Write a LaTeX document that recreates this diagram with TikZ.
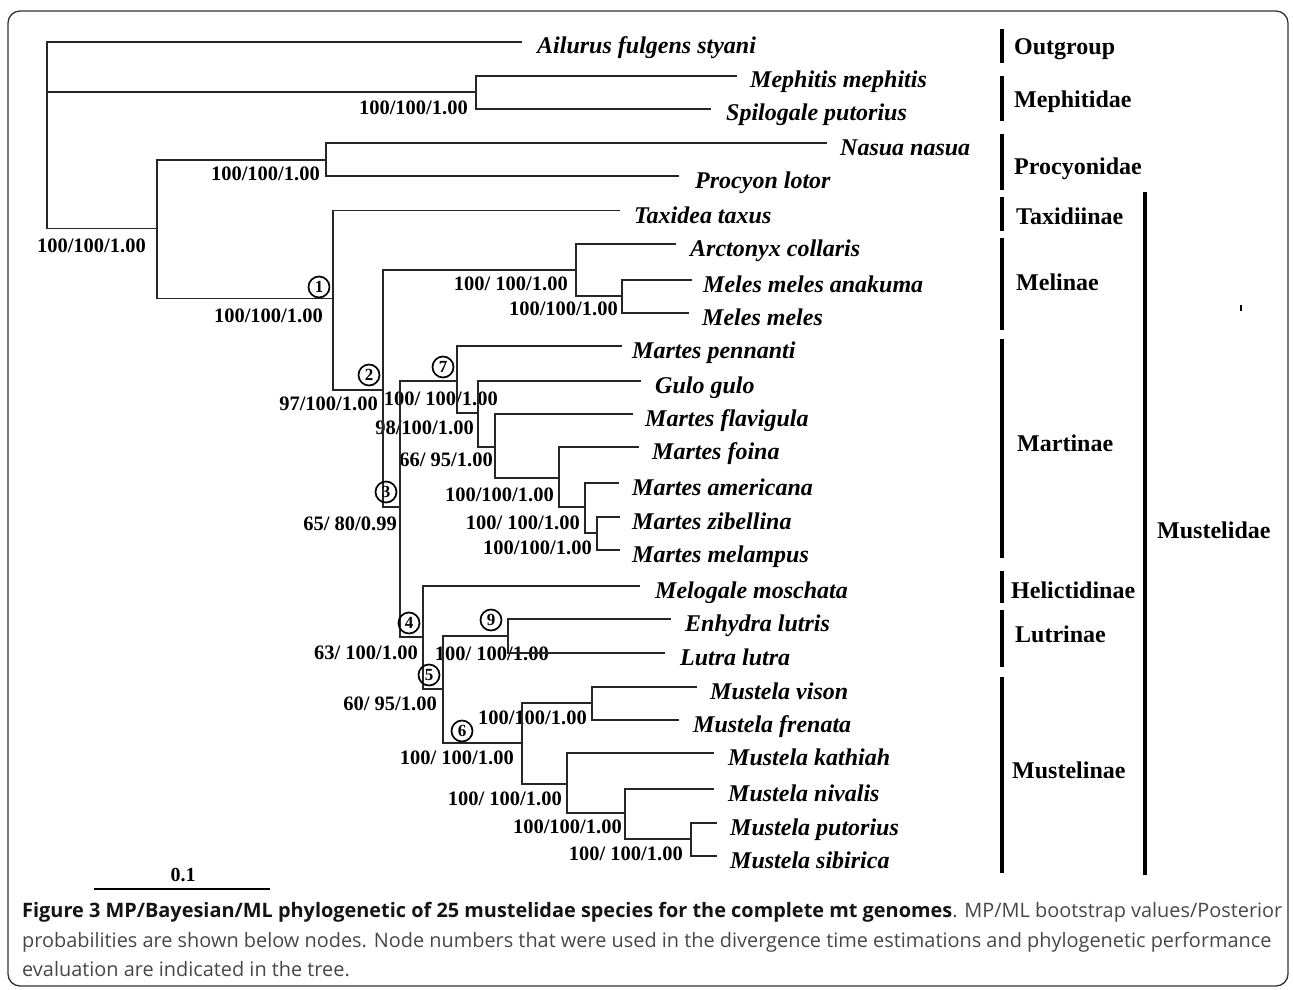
\documentclass[tikz,border=0pt]{standalone}
\usepackage{fontspec}
\setmainfont{Liberation Serif}
\newfontfamily\capfont{Open Sans}
\begin{document}
\begin{tikzpicture}[x=1pt,y=-1pt,
  br/.style={line width=1.5pt, draw=black!85},
  sp/.style={font=\fontsize{24}{26}\selectfont\bfseries\itshape, anchor=base west, inner sep=0pt},
  bs/.style={font=\fontsize{20.5}{22}\selectfont\bfseries, anchor=base east, inner sep=0pt},
  grp/.style={font=\fontsize{24}{26}\selectfont\bfseries, anchor=base west, inner sep=0pt},
  bar/.style={line width=3.5pt},
  cnum/.style={circle, draw, line width=1.7pt, minimum size=21pt, inner sep=0pt, font=\fontsize{17}{17}\selectfont\bfseries},
  captxt/.style={font=\fontsize{19.9}{22}\capfont, anchor=base west, inner sep=0pt, text=black!72}
]
\useasboundingbox (0,0) rectangle (1293,990);
\draw[line width=1.3pt, draw=black!80, rounded corners=12pt] (8,11) rectangle (1288,986);

% tree coordinates
\coordinate (root) at (47,228.7);
\coordinate (l1) at (522,42);
\coordinate (nMeph) at (476,92);
\coordinate (l2) at (737,76);
\coordinate (l3) at (711,109);
\coordinate (nB) at (157,228.7);
\coordinate (nProc) at (326,160);
\coordinate (l4) at (827,143);
\coordinate (l5) at (679,176);
\coordinate (n1) at (333,298.7);
\coordinate (l6) at (620,210.7);
\coordinate (n2) at (383,390);
\coordinate (nMel) at (576,270);
\coordinate (l7) at (676,244);
\coordinate (nMeles) at (622,296);
\coordinate (l8) at (692,280);
\coordinate (l9) at (689,313);
\coordinate (n3) at (400,507);
\coordinate (n7) at (457,381);
\coordinate (l10) at (622,346);
\coordinate (nGulo) at (478,413);
\coordinate (l11) at (641,381);
\coordinate (nFlav) at (495,447);
\coordinate (l12) at (633,414);
\coordinate (nFoina) at (559,478);
\coordinate (l13) at (639,447);
\coordinate (nAmer) at (585,507);
\coordinate (l14) at (619,483);
\coordinate (nZib) at (597,533);
\coordinate (l15) at (620,517);
\coordinate (l16) at (620,550);
\coordinate (n4) at (423,637);
\coordinate (l17) at (640,586);
\coordinate (n5) at (443,689);
\coordinate (n9) at (508,636);
\coordinate (l18) at (671,619);
\coordinate (l19) at (665,653);
\coordinate (n6) at (522,743);
\coordinate (nVis) at (592,703);
\coordinate (l20) at (697,687);
\coordinate (l21) at (679,720);
\coordinate (nKath) at (567,784);
\coordinate (l22) at (714,753);
\coordinate (nNiv) at (625,813);
\coordinate (l23) at (714,789);
\coordinate (nPut) at (691,839);
\coordinate (l24) at (717,823);
\coordinate (l25) at (717,856);

% bootstrap labels
\node[bs] (bRoot) at (146,252) {100/100/1.00};
\node[bs] (bMeph) at (468,114) {100/100/1.00};
\node[bs] (bProc) at (320,180) {100/100/1.00};
\node[bs] (bN1) at (323,322) {100/100/1.00};
\node[bs] (bMel) at (568,290) {100/ 100/1.00};
\node[bs] (bMeles) at (618,315) {100/100/1.00};
\node[bs] (bN2) at (378,410) {97/100/1.00};
\node[bs] (bN7) at (498,405) {100/ 100/1.00};
\node[bs] (bGulo) at (474,434) {98/100/1.00};
\node[bs] (bFlav) at (493,466) {66/ 95/1.00};
\node[bs] (bFoina) at (554,501) {100/100/1.00};
\node[bs] (bAmer) at (580,529) {100/ 100/1.00};
\node[bs] (bZib) at (592,554) {100/100/1.00};
\node[bs] (bN3) at (397,530) {65/ 80/0.99};
\node[bs] (bN4) at (418,659) {63/ 100/1.00};
\node[bs] (bN9) at (549,660) {100/ 100/1.00};
\node[bs] (bN5) at (437,710) {60/ 95/1.00};
\node[bs] (bN6) at (514,764) {100/ 100/1.00};
\node[bs] (bVis) at (587,724) {100/100/1.00};
\node[bs] (bKath) at (562,805) {100/ 100/1.00};
\node[bs] (bNiv) at (622,833) {100/100/1.00};
\node[bs] (bPut) at (683,860) {100/ 100/1.00};

% branches
\draw[br] (root) |- (l1);
\draw[br] (root) |- (nMeph);
\draw[br] (root) -- (nB);
\draw[br] (nMeph) |- (l2);
\draw[br] (nMeph) |- (l3);
\draw[br] (nB) |- (nProc);
\draw[br] (nB) |- (n1);
\draw[br] (nProc) |- (l4);
\draw[br] (nProc) |- (l5);
\draw[br] (n1) |- (l6);
\draw[br] (n1) |- (n2);
\draw[br] (n2) |- (nMel);
\draw[br] (n2) |- (n3);
\draw[br] (nMel) |- (l7);
\draw[br] (nMel) |- (nMeles);
\draw[br] (nMeles) |- (l8);
\draw[br] (nMeles) |- (l9);
\draw[br] (n3) |- (n7);
\draw[br] (n3) |- (n4);
\draw[br] (n7) |- (l10);
\draw[br] (n7) |- (nGulo);
\draw[br] (nGulo) |- (l11);
\draw[br] (nGulo) |- (nFlav);
\draw[br] (nFlav) |- (l12);
\draw[br] (nFlav) |- (nFoina);
\draw[br] (nFoina) |- (l13);
\draw[br] (nFoina) |- (nAmer);
\draw[br] (nAmer) |- (l14);
\draw[br] (nAmer) |- (nZib);
\draw[br] (nZib) |- (l15);
\draw[br] (nZib) |- (l16);
\draw[br] (n4) |- (l17);
\draw[br] (n4) |- (n5);
\draw[br] (n5) |- (n9);
\draw[br] (n5) |- (n6);
\draw[br] (n9) |- (l18);
\draw[br] (n9) |- (l19);
\draw[br] (n6) |- (nVis);
\draw[br] (n6) |- (nKath);
\draw[br] (nVis) |- (l20);
\draw[br] (nVis) |- (l21);
\draw[br] (nKath) |- (l22);
\draw[br] (nKath) |- (nNiv);
\draw[br] (nNiv) |- (l23);
\draw[br] (nNiv) |- (nPut);
\draw[br] (nPut) |- (l24);
\draw[br] (nPut) |- (l25);

% species
\node[sp] (tAil) at (537,54) {Ailurus fulgens styani};
\node[sp] (tMep) at (750,88) {Mephitis mephitis};
\node[sp] (tSpi) at (726,121) {Spilogale putorius};
\node[sp] (tNas) at (840,155) {Nasua nasua};
\node[sp] (tPro) at (695,188) {Procyon lotor};
\node[sp] (tTax) at (634,223) {Taxidea taxus};
\node[sp] (tArc) at (690,256) {Arctonyx collaris};
\node[sp] (tMma) at (703,292) {Meles meles anakuma};
\node[sp] (tMme) at (702,325) {Meles meles};
\node[sp] (tMpe) at (632,358) {Martes pennanti};
\node[sp] (tGul) at (655,393) {Gulo gulo};
\node[sp] (tMfl) at (645,426) {Martes flavigula};
\node[sp] (tMfo) at (652,459) {Martes foina};
\node[sp] (tMam) at (632,495) {Martes americana};
\node[sp] (tMzi) at (632,529) {Martes zibellina};
\node[sp] (tMml) at (632,562) {Martes melampus};
\node[sp] (tMel) at (655,598) {Melogale moschata};
\node[sp] (tEnh) at (685,631) {Enhydra lutris};
\node[sp] (tLut) at (680,665) {Lutra lutra};
\node[sp] (tVis) at (710,699) {Mustela vison};
\node[sp] (tFre) at (693,732) {Mustela frenata};
\node[sp] (tKat) at (728,765) {Mustela kathiah};
\node[sp] (tNiv) at (728,801) {Mustela nivalis};
\node[sp] (tPut) at (730,835) {Mustela putorius};
\node[sp] (tSib) at (730,868) {Mustela sibirica};

% node numbers
\node[cnum] (c1) at (319,287) {1};
\node[cnum] (c2) at (369,375) {2};
\node[cnum] (c7) at (443,367) {7};
\node[cnum] (c3) at (386,492) {3};
\node[cnum] (c4) at (409,623) {4};
\node[cnum] (c9) at (491,620) {9};
\node[cnum] (c5) at (429,675) {5};
\node[cnum] (c6) at (462,731) {6};

% group bars
\coordinate (gOa) at (1002,29);  \coordinate (gOb) at (1002,63);
\coordinate (gMa) at (1002,76);  \coordinate (gMb) at (1002,121);
\coordinate (gPa) at (1002,134); \coordinate (gPb) at (1002,190);
\coordinate (gTa) at (1002,197); \coordinate (gTb) at (1002,231);
\coordinate (gLa) at (1002,238); \coordinate (gLb) at (1002,330);
\coordinate (gRa) at (1002,339); \coordinate (gRb) at (1002,558);
\coordinate (gHa) at (1002,571); \coordinate (gHb) at (1002,603);
\coordinate (gUa) at (1002,610); \coordinate (gUb) at (1002,667);
\coordinate (gSa) at (1002,677); \coordinate (gSb) at (1002,873);
\coordinate (gDa) at (1145,192); \coordinate (gDb) at (1145,875);
\draw[bar] (gOa) -- (gOb);
\draw[bar] (gMa) -- (gMb);
\draw[bar] (gPa) -- (gPb);
\draw[bar] (gTa) -- (gTb);
\draw[bar] (gLa) -- (gLb);
\draw[bar] (gRa) -- (gRb);
\draw[bar] (gHa) -- (gHb);
\draw[bar] (gUa) -- (gUb);
\draw[bar] (gSa) -- (gSb);
\draw[bar] (gDa) -- (gDb);
\node[grp] (kOut) at (1014,55) {Outgroup};
\node[grp] (kMep) at (1014,107) {Mephitidae};
\node[grp] (kPro) at (1014,174) {Procyonidae};
\node[grp] (kTax) at (1016,224) {Taxidiinae};
\node[grp] (kMel) at (1016,290) {Melinae};
\node[grp] (kMar) at (1017,451) {Martinae};
\node[grp] (kHel) at (1011,598) {Helictidinae};
\node[grp] (kLut) at (1015,642) {Lutrinae};
\node[grp] (kMus) at (1012,778) {Mustelinae};
\node[grp] (kFam) at (1157,538) {Mustelidae};
\draw[line width=1.5pt] (1241,305) -- (1241,311);

% scale bar
\coordinate (s0) at (94,889);
\coordinate (s1) at (270,889);
\draw[line width=1.5pt] (s0) -- (s1);
\node[font=\fontsize{20}{22}\selectfont\bfseries, anchor=base, inner sep=0pt] (sLab) at (183,881) {0.1};

% caption
\node[captxt] (cap1) at (22,917) {{\bfseries\color{black!92}Figure 3 MP/Bayesian/ML phylogenetic of 25 mustelidae species for the complete mt genomes}. MP/ML bootstrap values/Posterior};
\node[captxt] (cap2) at (22,947) {probabilities are shown below nodes. Node numbers that were used in the divergence time estimations and phylogenetic performance};
\node[captxt] (cap3) at (22,976) {evaluation are indicated in the tree.};
\end{tikzpicture}
\end{document}
